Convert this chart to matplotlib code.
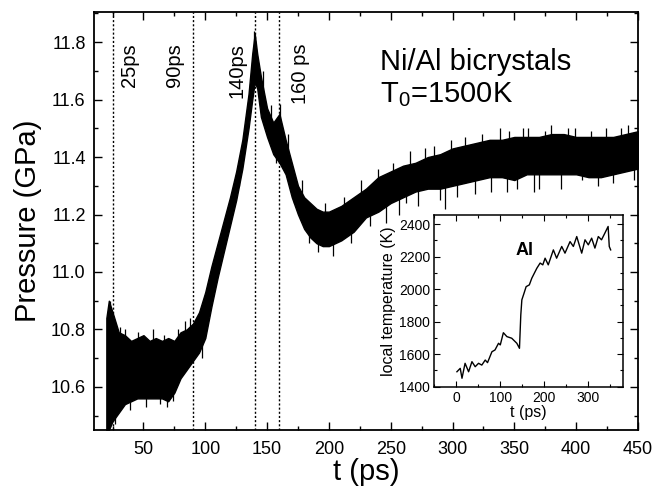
import numpy as np
import matplotlib
matplotlib.use("Agg")
import matplotlib.pyplot as plt
from matplotlib.ticker import MultipleLocator

plt.rcParams['font.family'] = ['Liberation Sans', 'DejaVu Sans']

# ---- main trace: envelope of the noisy pressure band ----
t_env = [20, 22, 25, 30, 35, 40, 45, 50, 55, 60, 65, 70, 75, 80, 85, 90, 95, 100,
         105, 110, 115, 120, 125, 130, 135, 138, 140, 142, 145, 150, 155, 160, 165,
         170, 175, 180, 185, 190, 195, 200, 210, 220, 230, 240, 250, 260, 270, 280,
         290, 300, 310, 320, 330, 340, 350, 360, 370, 380, 390, 400, 410, 420, 430,
         440, 450]
p_upper = [10.84, 10.90, 10.86, 10.79, 10.78, 10.76, 10.77, 10.78, 10.76, 10.77, 10.76,
           10.77, 10.76, 10.79, 10.80, 10.82, 10.86, 10.93, 11.02, 11.10, 11.18, 11.26,
           11.35, 11.46, 11.62, 11.76, 11.83, 11.76, 11.68, 11.57, 11.52, 11.55, 11.46,
           11.38, 11.30, 11.26, 11.24, 11.22, 11.21, 11.21, 11.23, 11.26, 11.29, 11.33,
           11.35, 11.37, 11.38, 11.40, 11.41, 11.43, 11.44, 11.45, 11.46, 11.46, 11.47,
           11.47, 11.47, 11.48, 11.48, 11.47, 11.47, 11.47, 11.47, 11.48, 11.49]
p_lower = [10.40, 10.45, 10.48, 10.51, 10.54, 10.55, 10.56, 10.56, 10.56, 10.56, 10.56,
           10.55, 10.58, 10.63, 10.66, 10.69, 10.72, 10.77, 10.88, 10.98, 11.07, 11.16,
           11.25, 11.36, 11.50, 11.60, 11.66, 11.64, 11.54, 11.47, 11.41, 11.38, 11.34,
           11.26, 11.20, 11.15, 11.12, 11.10, 11.09, 11.09, 11.11, 11.14, 11.19, 11.21,
           11.24, 11.26, 11.28, 11.29, 11.29, 11.30, 11.31, 11.32, 11.33, 11.33, 11.32,
           11.34, 11.34, 11.34, 11.34, 11.34, 11.33, 11.33, 11.34, 11.35, 11.36]

# spikes of the noisy trace sticking out of the band (time, pressure)
spike_t = [23, 27, 31, 35, 39, 46, 52, 58, 63, 67, 69, 74, 78, 84, 88, 97, 103, 112,
           118, 127, 139.5, 147, 153, 157, 160.4, 167, 172, 178, 184, 191, 197, 203.5,
           212, 218, 226, 233, 240, 246, 252, 257, 262, 265.5, 272, 278, 285, 290, 294,
           299, 304, 310, 318, 324, 331, 338, 343.7, 346, 352, 357, 361, 366, 370, 375,
           380, 388, 393, 399, 405, 412, 418, 424, 430, 436, 442, 447]
spike_p = [10.90, 10.47, 10.81, 10.80, 10.52, 10.79, 10.53, 10.80, 10.54, 10.78, 10.53,
           10.55, 10.80, 10.83, 10.84, 10.70, 10.96, 11.12, 11.22, 11.30, 11.84, 11.70,
           11.58, 11.38, 11.585, 11.48, 11.24, 11.32, 11.10, 11.07, 11.24, 11.055, 11.26,
           11.10, 11.32, 11.16, 11.36, 11.17, 11.38, 11.20, 11.24, 11.42, 11.23, 11.43,
           11.44, 11.25, 11.22, 11.46, 11.26, 11.47, 11.27, 11.48, 11.28, 11.50, 11.28,
           11.49, 11.29, 11.50, 11.50, 11.28, 11.29, 11.49, 11.51, 11.29, 11.50, 11.50,
           11.32, 11.49, 11.30, 11.50, 11.31, 11.50, 11.51, 11.32]

# ---- event markers ----
event_t = [25, 90, 140, 160]
event_labels = ['25ps', '90ps', '140ps', '160 ps']
event_label_x = [39, 75.5, 125.6, 177.4]

# ---- inset: local temperature of Al ----
inset_t = [1.5, 9, 13, 20, 28, 35.6, 43, 50.6, 58, 65.8, 71, 81, 88, 96, 100, 107, 115,
           126, 137.6, 143.6, 146.6, 149, 154, 158.7, 166, 171.6, 183, 190.5, 196.6,
           201.8, 209, 220.6, 228, 239.6, 247, 258.5, 266, 273.7, 285, 292.5, 300,
           307.6, 315, 322.7, 330, 337.6, 345, 347.6, 350.8]
inset_T = [1492, 1513, 1452, 1544, 1492, 1554, 1523, 1544, 1533, 1564, 1548, 1615, 1626,
           1667, 1657, 1732, 1708, 1698, 1667, 1636, 1841, 1934, 1975, 2015, 2026, 2067,
           2128, 2160, 2149, 2190, 2149, 2241, 2190, 2262, 2221, 2292, 2262, 2323, 2221,
           2303, 2272, 2313, 2252, 2323, 2303, 2344, 2385, 2262, 2241]

fig = plt.figure(figsize=(6.55, 4.99), dpi=100)
ax = fig.add_axes([0.1435, 0.1383, 0.8305, 0.8377])

ax.fill_between(t_env, p_lower, p_upper, color='black', linewidth=1.0, edgecolor='black')
center = (np.array(p_upper) + np.array(p_lower)) / 2
base = np.interp(spike_t, t_env, center)
ax.vlines(spike_t, base, spike_p, color='black', linewidth=0.9)

for x in event_t:
    ax.axvline(x, color='black', linestyle=(0, (1.5, 1.5)), linewidth=1.0)
for x, lab in zip(event_label_x, event_labels):
    ax.text(x, 11.795, lab, rotation=90, ha='center', va='top', fontsize=14.5)

ax.text(0.526, 0.861, 'Ni/Al bicrystals', transform=ax.transAxes, fontsize=21,
        ha='left', va='baseline')
ax.text(0.526, 0.785, r'T$_\mathregular{0}$=1500K', transform=ax.transAxes, fontsize=21,
        ha='left', va='baseline')

ax.set_xlim(10, 450)
ax.set_ylim(10.45, 11.905)
ax.xaxis.set_major_locator(MultipleLocator(50))
ax.xaxis.set_minor_locator(MultipleLocator(25))
ax.yaxis.set_major_locator(MultipleLocator(0.2))
ax.yaxis.set_minor_locator(MultipleLocator(0.1))
ax.xaxis.set_major_formatter(matplotlib.ticker.FuncFormatter(lambda v, p: f'{v:.0f}' if v >= 50 else ''))
ax.yaxis.set_major_formatter(matplotlib.ticker.FormatStrFormatter('%.1f'))
ax.tick_params(which='both', direction='in', top=True, right=True, labelsize=13, width=1.0)
ax.tick_params(which='major', length=6)
ax.tick_params(which='minor', length=3)
ax.tick_params(axis='y', pad=6)
ax.tick_params(axis='x', pad=8)
for s in ax.spines.values():
    s.set_linewidth(1.3)
ax.set_xlabel('t (ps)', fontsize=21, labelpad=0)
ax.set_ylabel('Pressure (GPa)', fontsize=21, labelpad=6)

# inset
ai = fig.add_axes([0.663, 0.225, 0.2876, 0.344])
ai.plot(inset_t, inset_T, color='black', linewidth=1.0)
ai.set_xlim(-50, 378)
ai.set_ylim(1400, 2455)
ai.xaxis.set_major_locator(MultipleLocator(100))
ai.xaxis.set_minor_locator(MultipleLocator(50))
ai.yaxis.set_major_locator(MultipleLocator(200))
ai.yaxis.set_minor_locator(MultipleLocator(100))
ai.xaxis.set_major_formatter(matplotlib.ticker.FuncFormatter(lambda v, p: f'{v:.0f}' if 0 <= v <= 300 else ''))
ai.tick_params(which='both', direction='in', top=True, right=True, labelsize=10, width=0.8, pad=3)
ai.tick_params(which='major', length=4)
ai.tick_params(which='minor', length=2)
for s in ai.spines.values():
    s.set_linewidth(1.1)
ai.set_xlabel('t (ps)', fontsize=11.5, labelpad=0)
ai.set_ylabel('local temperature (K)', fontsize=11.5, labelpad=2)
ai.text(154, 2235, 'Al', fontsize=13, fontweight='bold', ha='center', va='center')

fig.savefig('out.png', dpi=100)
